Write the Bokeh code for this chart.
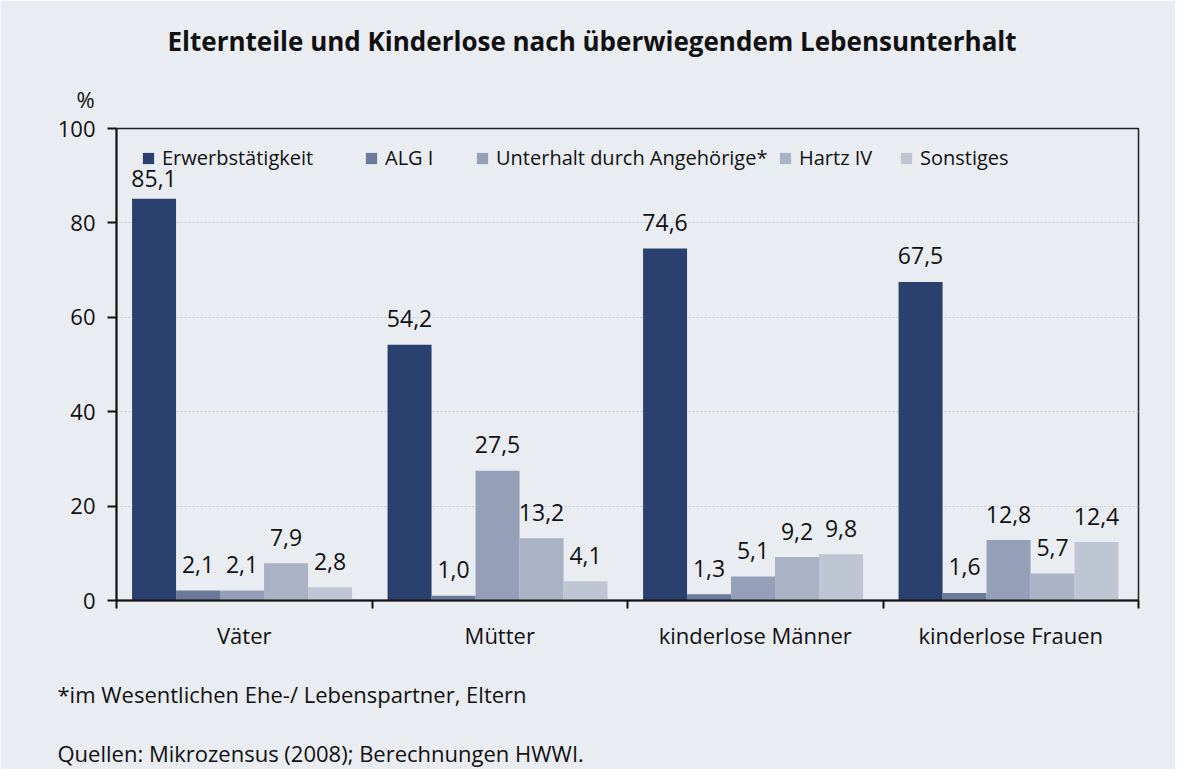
import numpy as np
from bokeh.plotting import figure
from bokeh.models import (ColumnDataSource, FixedTicker, Legend, LegendItem,
                          Range1d, Title)
from bokeh.core.properties import value
from bokeh.embed import file_html
from bokeh.resources import INLINE

# ---- data ----
groups = ["Väter", "Mütter", "kinderlose Männer", "kinderlose Frauen"]
series = ["Erwerbstätigkeit", "ALG I", "Unterhalt durch Angehörige*", "Hartz IV", "Sonstiges"]
erwerb = [85.1, 54.2, 74.6, 67.5]
alg1 = [2.1, 1.0, 1.3, 1.6]
unterhalt = [2.1, 27.5, 5.1, 12.8]
hartz4 = [7.9, 13.2, 9.2, 5.7]
sonstiges = [2.8, 4.1, 9.8, 12.4]
y_ticks = [0, 20, 40, 60, 80, 100]
title_text = "Elternteile und Kinderlose nach überwiegendem Lebensunterhalt"
unit_text = "%"
note_text = "*im Wesentlichen Ehe-/ Lebenspartner, Eltern"
source_text = "Quellen: Mikrozensus (2008); Berechnungen HWWI."

colors = ["#2a406e", "#6b7a9b", "#959fb7", "#a9b3c5", "#bec5d3"]
BG = "#e9ecf1"
FONT = "Open Sans"
INK = "#111111"

values = [erwerb, alg1, unterhalt, hartz4, sonstiges]

p = figure(frame_width=1022, frame_height=472, output_backend="svg", toolbar_location=None,
           x_range=Range1d(0, 4), y_range=Range1d(0, 100),
           min_border_left=116, min_border_right=37, min_border_top=128,
           min_border_bottom=20)
p.background_fill_color = BG
p.border_fill_color = BG
p.outline_line_color = "#222222"
p.outline_line_width = 1.5

bar_w = 0.1722
first_center = 0.147
legend_x = [25, 248, 359, 662, 783]

gx = np.arange(len(groups))
for i, (name, vals, col) in enumerate(zip(series, values, colors)):
    xs = gx + first_center + i * bar_w
    v = np.array(vals)
    src = ColumnDataSource(dict(x=xs, top=v,
                                ly=np.minimum(v + 5.5, 89.5),
                                lab=[f"{t:.1f}".replace(".", ",") for t in v]))
    r = p.vbar(x="x", top="top", bottom=0, width=bar_w, source=src,
               fill_color=col, line_color=None)
    p.text(x="x", y="ly", text="lab", source=src, text_align="center",
           text_baseline="middle", text_font=value(FONT), text_font_size="23px",
           text_color=INK)
    leg = Legend(items=[LegendItem(label=name, renderers=[r])],
                 location=(legend_x[i], 429), orientation="horizontal",
                 background_fill_alpha=0, border_line_color=None,
                 padding=0, margin=0, glyph_width=14, glyph_height=14,
                 label_standoff=7, label_text_font=FONT,
                 label_text_font_size="20px", label_text_color=INK,
                 label_height=22)
    p.add_layout(leg)

# x axis
p.xaxis.ticker = FixedTicker(ticks=[0.5, 1.5, 2.5, 3.5], minor_ticks=[0, 1, 2, 3, 4])
p.xaxis.major_label_overrides = {0.5: groups[0], 1.5: groups[1], 2.5: groups[2], 3.5: groups[3]}
p.xaxis.major_tick_line_color = None
p.xaxis.major_tick_out = 0
p.xaxis.major_tick_in = 0
p.xaxis.minor_tick_line_color = INK
p.xaxis.minor_tick_line_width = 2
p.xaxis.minor_tick_out = 8
p.xaxis.minor_tick_in = 0
p.xaxis.axis_line_width = 2
p.xaxis.axis_line_color = INK
p.xaxis.major_label_text_font = FONT
p.xaxis.major_label_text_font_size = "22px"
p.xaxis.major_label_text_color = INK
p.xaxis.major_label_standoff = 11

# y axis
p.yaxis.ticker = FixedTicker(ticks=y_ticks)
p.yaxis.major_tick_out = 9
p.yaxis.major_tick_in = 0
p.yaxis.major_tick_line_width = 2
p.yaxis.major_tick_line_color = INK
p.yaxis.minor_tick_line_color = None
p.yaxis.axis_line_width = 2
p.yaxis.axis_line_color = INK
p.yaxis.major_label_text_font = FONT
p.yaxis.major_label_text_font_size = "22px"
p.yaxis.major_label_text_color = INK
p.yaxis.major_label_standoff = 12

p.xgrid.grid_line_color = None
p.ygrid.ticker = FixedTicker(ticks=y_ticks)
p.ygrid.grid_line_color = "#c5cad3"
p.ygrid.grid_line_dash = "2 2"
p.ygrid.grid_line_width = 1

# texts as titles
def make_title(text, size, offset, standoff, bold=False):
    return Title(text=text, align="left", offset=offset, standoff=standoff,
                 text_font=FONT, text_font_size=size, text_color=INK,
                 text_font_style="bold" if bold else "normal")

p.add_layout(make_title(unit_text, "22px", -40, 29), "above")
p.add_layout(make_title(title_text, "26px", 51, 18, bold=True), "above")
p.add_layout(make_title(note_text, "22px", -59, 49), "below")
p.add_layout(make_title(source_text, "22px", -59, 4), "below")

open("out.html", "w").write(file_html(p, INLINE))
